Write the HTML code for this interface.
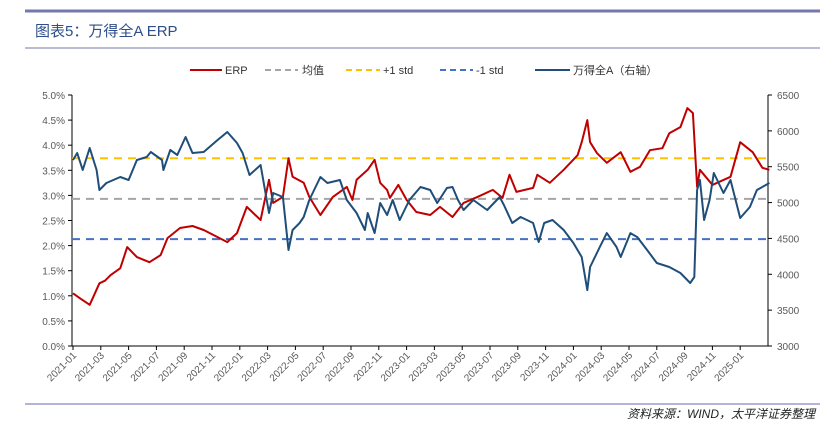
<!DOCTYPE html>
<html><head><meta charset="utf-8">
<style>
html,body{margin:0;padding:0;background:#fff;}
body{width:820px;height:432px;position:relative;overflow:hidden;font-family:"Liberation Sans","Noto Sans CJK SC",sans-serif;}
</style></head>
<body>
<svg id="chart" width="820" height="432" xmlns="http://www.w3.org/2000/svg" style="position:absolute;left:0;top:0">
<line x1="25" y1="11" x2="820" y2="11" stroke="#7478ad" stroke-width="3"/>
<text x="35" y="36" font-size="15" fill="#2d4e8a" font-family="'Liberation Sans','Noto Sans CJK SC',sans-serif">图表5：万得全A ERP</text>
<line x1="25" y1="48" x2="820" y2="48" stroke="#7478ad" stroke-width="1"/>
<g font-size="11" fill="#333">
 <g><line x1="190" y1="70" x2="222" y2="70" stroke="#c00000" stroke-width="2"/><text x="225" y="74">ERP</text></g>
 <g><line x1="265" y1="70" x2="298" y2="70" stroke="#a5a5a5" stroke-width="2" stroke-dasharray="6,4"/><text x="302" y="74">均值</text></g>
 <g><line x1="346" y1="70" x2="380" y2="70" stroke="#ffc000" stroke-width="2" stroke-dasharray="6,4"/><text x="383" y="74">+1 std</text></g>
 <g><line x1="440" y1="70" x2="473" y2="70" stroke="#4472c4" stroke-width="2" stroke-dasharray="6,4"/><text x="476" y="74">-1 std</text></g>
 <g><line x1="535" y1="70" x2="570" y2="70" stroke="#1f4e79" stroke-width="2"/><text x="573" y="74">万得全A（右轴）</text></g>
</g>
<g id="plot"></g>
<line x1="25" y1="404" x2="820" y2="404" stroke="#9a9cc8" stroke-width="1.5"/>
<text x="815" y="418" text-anchor="end" font-size="12" font-style="italic" fill="#222">资料来源：WIND，太平洋证券整理</text>
</svg>
<script>
// ERP data (month offset since 2021-01, value %)
const erpMonths=[0,0.5,1.2,1.5,1.9,2.3,2.7,3.4,3.9,4.6,5.5,6.3,6.8,7.7,8.6,9.4,10.4,11.1,11.8,12.5,13.5,14.1,14.4,15.1,15.5,15.8,16.6,17,17.8,18.7,19.7,20.1,20.4,21.2,21.7,22.1,22.6,22.8,23.4,24,24.7,25.7,26.4,27.3,28.1,29.1,30.2,30.9,31.4,31.9,33.1,33.4,34.3,35.3,36.3,36.6,37,37.2,37.7,38.4,39.4,40.1,40.8,41.5,42.4,42.9,43.7,44.2,44.6,44.9,45.1,46,47.3,48,48.9,49.6,50.1];
const erpValues=[1.05,0.95,0.82,1.0,1.25,1.3,1.41,1.55,1.97,1.77,1.67,1.81,2.15,2.35,2.39,2.31,2.17,2.07,2.25,2.77,2.51,3.31,2.85,2.97,3.74,3.37,3.25,2.97,2.61,2.97,3.17,2.91,3.31,3.51,3.71,3.25,3.11,2.95,3.21,2.91,2.67,2.61,2.77,2.57,2.85,2.97,3.11,2.95,3.41,3.07,3.15,3.41,3.25,3.51,3.80,4.06,4.50,4.06,3.84,3.65,3.86,3.47,3.57,3.90,3.94,4.24,4.36,4.74,4.64,3.17,3.51,3.21,3.37,4.06,3.86,3.55,3.51];
// Wind All A index (right axis)
const idxMonths=[0,0.3,0.7,1.2,1.7,1.9,2.4,2.9,3.4,4,4.6,5.3,5.6,6.4,6.5,7,7.5,8.1,8.6,9.4,10.4,11.1,11.8,12.2,12.7,13.5,14.1,14.4,15.1,15.5,15.8,16.3,16.6,17,17.8,18.3,19.2,19.7,20.4,21,21.2,21.7,22.1,22.6,23,23.5,24.2,25,25.7,26.2,26.9,27.3,27.7,28.1,28.8,29.8,30.7,31,31.6,32.2,33.1,33.5,33.9,34.5,35.3,36,36.6,37,37.2,37.9,38.4,39.1,39.4,40.1,40.6,41.3,42,42.9,43.7,44.4,44.7,44.9,45.1,45.4,45.8,46.1,46.8,47.3,48,48.7,49.2,50.1];
const idxValues=[5594,5691,5454,5761,5454,5175,5273,5315,5357,5315,5594,5636,5705,5594,5454,5733,5664,5914,5691,5705,5872,5984,5831,5691,5385,5524,4855,5133,5078,4339,4617,4715,4799,5036,5357,5273,5315,5036,4855,4617,4855,4575,4994,4827,5036,4757,5036,5217,5175,4994,5203,5217,5036,4896,5036,4896,5078,4966,4715,4799,4715,4450,4715,4757,4617,4436,4241,3780,4101,4380,4575,4380,4241,4575,4519,4339,4157,4101,4018,3878,3962,5175,5315,4757,5036,5412,5133,5315,4785,4938,5175,5273];
const leftTicks=["0.0%","0.5%","1.0%","1.5%","2.0%","2.5%","3.0%","3.5%","4.0%","4.5%","5.0%"];
const rightTicks=[3000,3500,4000,4500,5000,5500,6000,6500];
const xLabels=["2021-01","2021-03","2021-05","2021-07","2021-09","2021-11","2022-01","2022-03","2022-05","2022-07","2022-09","2022-11","2023-01","2023-03","2023-05","2023-07","2023-09","2023-11","2024-01","2024-03","2024-05","2024-07","2024-09","2024-11","2025-01"];
const meanVal=2.93, plusStd=3.74, minusStd=2.13;

const L=72,R=768,T=95,B=346;
const xs=m=>73+m*13.9;
const yl=v=>B-(v/5)*(B-T);
const yr=v=>B-((v-3000)/3500)*(B-T);
const NS="http://www.w3.org/2000/svg";
const g=document.getElementById('plot');
function mk(t,a){const e=document.createElementNS(NS,t);for(const k in a)e.setAttribute(k,a[k]);g.appendChild(e);return e;}

// axes
let e=mk('line',{x1:L,y1:T,x2:L,y2:B,stroke:'#000','stroke-width':1});


e=mk('line',{x1:R,y1:T,x2:R,y2:B,stroke:'#000','stroke-width':1});


e=mk('line',{x1:L,y1:B,x2:R,y2:B,stroke:'#000','stroke-width':1});



leftTicks.forEach((t,i)=>{const y=yl(i*0.5);
 mk('line',{x1:L-4,y1:y,x2:L,y2:y,stroke:'#000'});
 const tx=mk('text',{x:L-7,y:y+4,'text-anchor':'end','font-size':10,fill:'#595959'});tx.textContent=t;
 
 
});
rightTicks.forEach(t=>{const y=yr(t);
 mk('line',{x1:R,y1:y,x2:R+4,y2:y,stroke:'#000'});
 const tx=mk('text',{x:R+9,y:y+4,'font-size':10,fill:'#595959'});tx.textContent=t;
 
 
});
xLabels.forEach((t,i)=>{const x=xs(i*2);
 mk('line',{x1:x,y1:B,x2:x,y2:B+4,stroke:'#000'});
 const tx=mk('text',{x:x+4,y:B+10,'text-anchor':'end','font-size':10,fill:'#595959',transform:`rotate(-45 ${x+4} ${B+10})`});tx.textContent=t;
 
 
});

// reference lines
[[meanVal,'#a5a5a5','mean-line'],[plusStd,'#ffc000','plus-std-line'],[minusStd,'#4472c4','minus-std-line']].forEach(([v,c,n])=>{
 const ln=mk('line',{x1:L,y1:yl(v),x2:R,y2:yl(v),stroke:c,'stroke-width':2,'stroke-dasharray':'8,6'});
 
 
});

// series
const erpPts=erpMonths.map((m,i)=>xs(m).toFixed(1)+','+yl(erpValues[i]).toFixed(1)).join(' ');
const p1=mk('polyline',{points:erpPts,fill:'none',stroke:'#c00000','stroke-width':2,'stroke-linejoin':'round'});


const idxPts=idxMonths.map((m,i)=>xs(m).toFixed(1)+','+yr(idxValues[i]).toFixed(1)).join(' ');
const p2=mk('polyline',{points:idxPts,fill:'none',stroke:'#1f4e79','stroke-width':2,'stroke-linejoin':'round'});


</script>
</body></html>
